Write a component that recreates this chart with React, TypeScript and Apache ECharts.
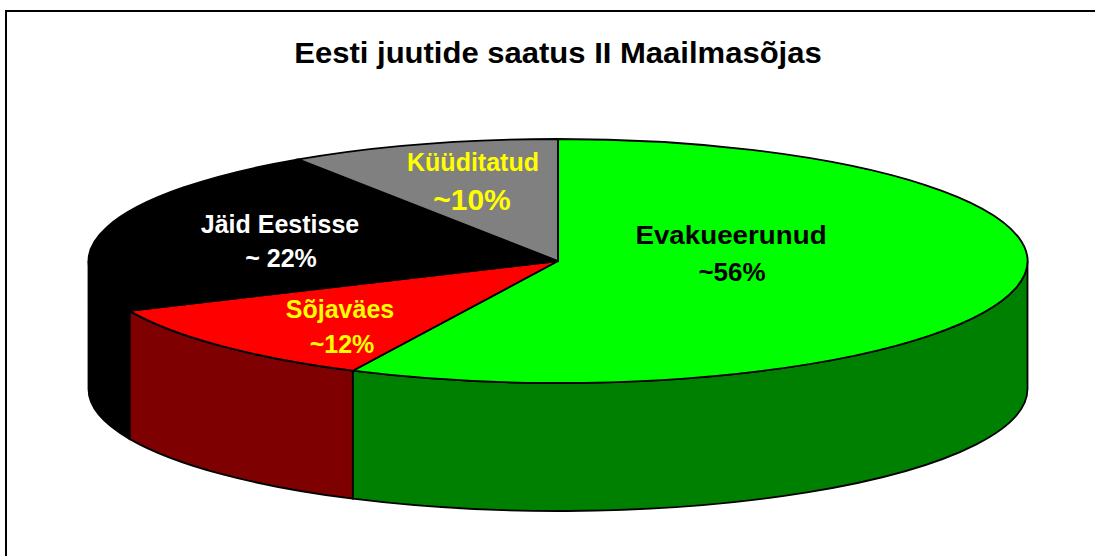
import React, { useEffect, useRef } from "react";
import * as echarts from "echarts";

const titleText = "Eesti juutide saatus II Maailmasõjas";
const categories = ["Evakueerunud", "Sõjaväes", "Jäid Eestisse", "Küüditatud"];
const percentLabels = ["~56%", "~12%", "~ 22%", "~10%"];
const sliceValues = [57.2, 11.1, 22.37, 9.33];
const topColors = ["#00ff00", "#ff0000", "#000000", "#808080"];
const wallColors = ["#008000", "#7f0000", "#000000", "#404040"];
const labelColors = ["#000000", "#ffff00", "#ffffff", "#ffff00"];

const W = 1095;
const H = 556;
const CX = 558;
const CY = 261;
const RX = 469.5;
const RY = 122;
const DEPTH = 128;
const nameCentres = [[731, 235], [340, 309], [280, 224], [473, 162]];
const percentCentres = [[732, 272], [342, 344], [281, 258], [472, 199]];
const nameSizes = [25, 25, 25, 25];
const nameStretch = [1.11, 1, 1, 1];
const percentSizes = [26, 25, 25, 30];
const FONT = '"Liberation Sans", Arial, sans-serif';

const total = sliceValues.reduce((a, b) => a + b, 0);
const starts: number[] = [];
sliceValues.reduce((acc, v, i) => {
  starts[i] = acc;
  return acc + v;
}, 0);
const toAngle = (v: number) => (v / total) * Math.PI * 2;
const px = (a: number) => CX + RX * Math.sin(a);
const py = (a: number) => CY - RY * Math.cos(a);

function topPath(i: number) {
  const a = toAngle(starts[i]);
  const b = toAngle(starts[i] + sliceValues[i]);
  const large = b - a > Math.PI ? 1 : 0;
  return `M${CX} ${CY}L${px(a)} ${py(a)}A${RX} ${RY} 0 ${large} 1 ${px(b)} ${py(b)}Z`;
}

function wallPath(i: number) {
  const a = Math.max(toAngle(starts[i]), Math.PI / 2);
  const b = Math.min(toAngle(starts[i] + sliceValues[i]), (Math.PI * 3) / 2);
  if (b <= a) return null;
  return (
    `M${px(a)} ${py(a)}A${RX} ${RY} 0 0 1 ${px(b)} ${py(b)}` +
    `L${px(b)} ${py(b) + DEPTH}A${RX} ${RY} 0 0 0 ${px(a)} ${py(a) + DEPTH}Z`
  );
}

export default function App() {
  const ref = useRef<HTMLDivElement>(null);
  useEffect(() => {
    const chart = echarts.init(ref.current!, null, { renderer: "svg", width: W, height: H });
    const seriesData = sliceValues.map((value, i) => ({ value, name: categories[i] }));
    chart.setOption({
      animation: false,
      backgroundColor: "#ffffff",
      graphic: [
        { type: "line", shape: { x1: 5, y1: 11, x2: W, y2: 11 }, style: { stroke: "#000", lineWidth: 2 } },
        { type: "line", shape: { x1: 6, y1: 10, x2: 6, y2: H }, style: { stroke: "#000", lineWidth: 2 } },
        {
          type: "text",
          x: 558,
          y: 53,
          scaleX: 1.07,
          style: {
            text: titleText,
            align: "center",
            verticalAlign: "middle",
            fill: "#000",
            fontFamily: FONT,
            fontSize: 29,
            fontWeight: "bold",
          },
        },
      ],
      series: [
        {
          type: "custom",
          coordinateSystem: "none",
          silent: true,
          z: 2,
          data: seriesData,
          renderItem: (params: any) => {
            const d = wallPath(params.dataIndex);
            if (!d) return null;
            return {
              type: "path",
              shape: { pathData: d },
              style: { fill: wallColors[params.dataIndex], stroke: "#000", lineWidth: 1.8 },
            };
          },
        },
        {
          type: "custom",
          coordinateSystem: "none",
          silent: true,
          z: 3,
          data: seriesData,
          renderItem: (params: any) => ({
            type: "path",
            shape: { pathData: topPath(params.dataIndex) },
            style: { fill: topColors[params.dataIndex], stroke: "#000", lineWidth: 1.8 },
          }),
        },
        {
          type: "custom",
          coordinateSystem: "none",
          silent: true,
          z: 4,
          data: seriesData,
          renderItem: (params: any) => {
            const i = params.dataIndex;
            const mk = (text: string, c: number[], size: number, stretch: number) => ({
              type: "text",
              x: c[0],
              y: c[1],
              scaleX: stretch,
              style: {
                text,
                align: "center",
                verticalAlign: "middle",
                fill: labelColors[i],
                fontFamily: FONT,
                fontWeight: "bold",
                fontSize: size,
              },
            });
            return {
              type: "group",
              children: [
                mk(categories[i], nameCentres[i], nameSizes[i], nameStretch[i]),
                mk(percentLabels[i], percentCentres[i], percentSizes[i], 1),
              ],
            };
          },
        },
      ],
    });
    return () => chart.dispose();
  }, []);
  return (
    <div
      ref={ref}
      style={{ position: "fixed", left: 0, top: 0, width: W, height: H, background: "#fff" }}
    />
  );
}
